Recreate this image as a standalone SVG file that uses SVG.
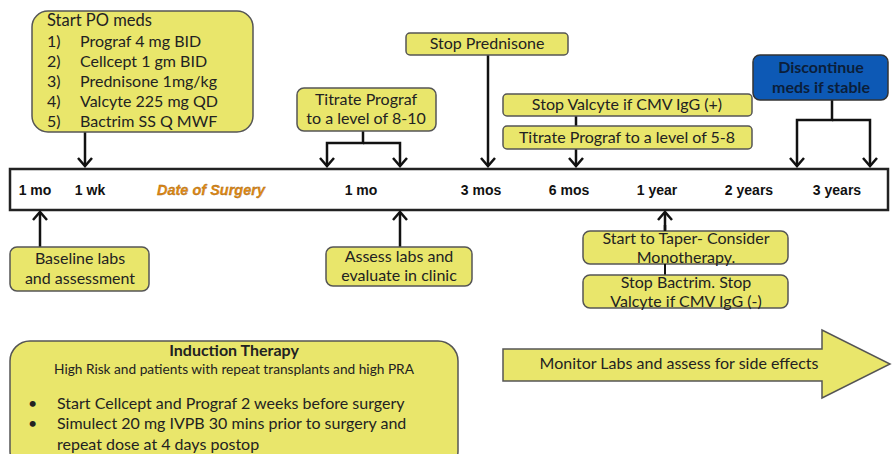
<svg xmlns="http://www.w3.org/2000/svg" width="892" height="454" viewBox="0 0 892 454">
<defs>
<style>
.box{fill:#e9e66b;stroke:#555;stroke-width:1.5}
.t{font-family:Lato,"Open Sans",sans-serif;fill:#222;font-size:16px}
.c{text-anchor:middle}
.tl{font-family:"Liberation Sans",Arial,sans-serif;font-weight:bold;font-size:14px;fill:#111;text-anchor:middle}
.ln{fill:none;stroke:#111;stroke-width:2.5}
</style>
<marker id="ah" viewBox="-10 -8 12 16" refX="0" refY="0" markerWidth="12" markerHeight="16" markerUnits="userSpaceOnUse" orient="auto">
<path d="M-8,-7 L0,0 L-8,7" fill="none" stroke="#111" stroke-width="2.5"/>
</marker>
</defs>

<g id="timeline">
<rect x="10" y="169" width="878" height="41" fill="#fff" stroke="#222" stroke-width="2.5"/>
<text class="tl" x="35" y="195">1 mo</text>
<text class="tl" x="90" y="195">1 wk</text>
<text x="211" y="195" font-family="'Liberation Sans',Arial,sans-serif" font-weight="bold" font-style="italic" font-size="14.5px" fill="#e28a12" text-anchor="middle" stroke="#a0661a" stroke-width="0.3">Date of Surgery</text>
<text class="tl" x="361" y="195">1 mo</text>
<text class="tl" x="481" y="195">3 mos</text>
<text class="tl" x="569" y="195">6 mos</text>
<text class="tl" x="657" y="195">1 year</text>
<text class="tl" x="749" y="195">2 years</text>
<text class="tl" x="837" y="195">3 years</text>
</g>

<g id="connectors">
<path class="ln" d="M85,132 V166" marker-end="url(#ah)"/>
<path class="ln" d="M40,247 V212" marker-end="url(#ah)"/>
<path class="ln" d="M400,247 V212" marker-end="url(#ah)"/>
<path class="ln" d="M363,131 V143 H327 V166" marker-end="url(#ah)"/>
<path class="ln" d="M363,143 H400 V166" marker-end="url(#ah)"/>
<path class="ln" d="M488,55 V166" marker-end="url(#ah)"/>
<path class="ln" d="M576,116 V166" marker-end="url(#ah)"/>
<path class="ln" d="M832,100 V120 H797 V166" marker-end="url(#ah)"/>
<path class="ln" d="M832,120 H870 V166" marker-end="url(#ah)"/>
<path class="ln" d="M665,231 V212" marker-end="url(#ah)"/>
</g>

<g id="start-po">
<rect class="box" x="32" y="11" width="221" height="121" rx="16"/>
<g class="t">
<text x="47" y="26" style="font-size:16.5px">Start PO meds</text>
<text x="47" y="47">1)</text><text x="80" y="47">Prograf 4 mg BID</text>
<text x="47" y="67">2)</text><text x="80" y="67">Cellcept 1 gm BID</text>
<text x="47" y="87">3)</text><text x="80" y="87">Prednisone 1mg/kg</text>
<text x="47" y="107">4)</text><text x="80" y="107">Valcyte 225 mg QD</text>
<text x="47" y="127">5)</text><text x="80" y="127">Bactrim SS Q MWF</text>
</g>
</g>

<g id="titrate1">
<rect class="box" x="297" y="88" width="139" height="43" rx="7"/>
<text class="t c" x="366" y="105">Titrate Prograf</text>
<text class="t c" x="366" y="124">to a level of 8-10</text>
</g>

<g id="stop-pred">
<rect class="box" x="406" y="33" width="162" height="22" rx="4"/>
<text class="t c" x="487" y="49">Stop Prednisone</text>
</g>

<g id="stop-valcyte">
<rect class="box" x="503" y="94" width="249" height="22" rx="4"/>
<text class="t c" x="627" y="110">Stop Valcyte if CMV IgG (+)</text>
</g>

<g id="titrate2">
<rect class="box" x="503" y="126" width="249" height="23" rx="4"/>
<text class="t c" x="627" y="143">Titrate Prograf to a level of 5-8</text>
</g>

<g id="discontinue">
<rect x="753" y="55" width="135" height="45" rx="7" fill="#0d59b5" stroke="#333" stroke-width="1.5"/>
<text class="t c" x="821" y="73" font-weight="bold" fill="#0b1e3a" style="fill:#0b1e3a">Discontinue</text>
<text class="t c" x="821" y="93" font-weight="bold" fill="#0b1e3a" style="fill:#0b1e3a">meds if stable</text>
</g>

<g id="baseline">
<rect class="box" x="10" y="247" width="139" height="44" rx="7"/>
<text class="t c" x="80" y="264">Baseline labs</text>
<text class="t c" x="80" y="284">and assessment</text>
</g>

<g id="assess">
<rect class="box" x="326" y="247" width="146" height="39" rx="7"/>
<text class="t c" x="399" y="262">Assess labs and</text>
<text class="t c" x="399" y="281">evaluate in clinic</text>
</g>

<g id="taper">
<rect class="box" x="583" y="231" width="205" height="33" rx="7"/>
<path class="ln" d="M665,231 V225" stroke-width="2"/>
<text class="t c" x="686" y="244">Start to Taper- Consider</text>
<text class="t c" x="686" y="263">Monotherapy.</text>
</g>

<g id="bactrim">
<path d="M665,264 V276" stroke="#111" stroke-width="2" fill="none"/>
<rect class="box" x="583" y="275" width="205" height="33" rx="7"/>
<text class="t c" x="686" y="288">Stop Bactrim. Stop</text>
<text class="t c" x="686" y="307">Valcyte if CMV IgG (-)</text>
</g>

<g id="induction">
<rect class="box" x="10" y="341" width="448" height="130" rx="20"/>
<text class="t c" x="234" y="356" font-weight="bold">Induction Therapy</text>
<text class="t c" x="234" y="374" style="font-size:13.7px">High Risk and patients with repeat transplants and high PRA</text>
<g class="t">
<text x="28" y="409">•</text><text x="57" y="409">Start Cellcept and Prograf 2 weeks before surgery</text>
<text x="28" y="429">•</text><text x="57" y="429">Simulect 20 mg IVPB 30 mins prior to surgery and</text>
<text x="57" y="450">repeat dose at 4 days postop</text>
</g>
</g>

<g id="monitor">
<path class="box" d="M503,349 H822 V330 L890,364 L822,398 V381 H503 Z"/>
<text class="t c" x="679" y="369">Monitor Labs and assess for side effects</text>
</g>
</svg>
